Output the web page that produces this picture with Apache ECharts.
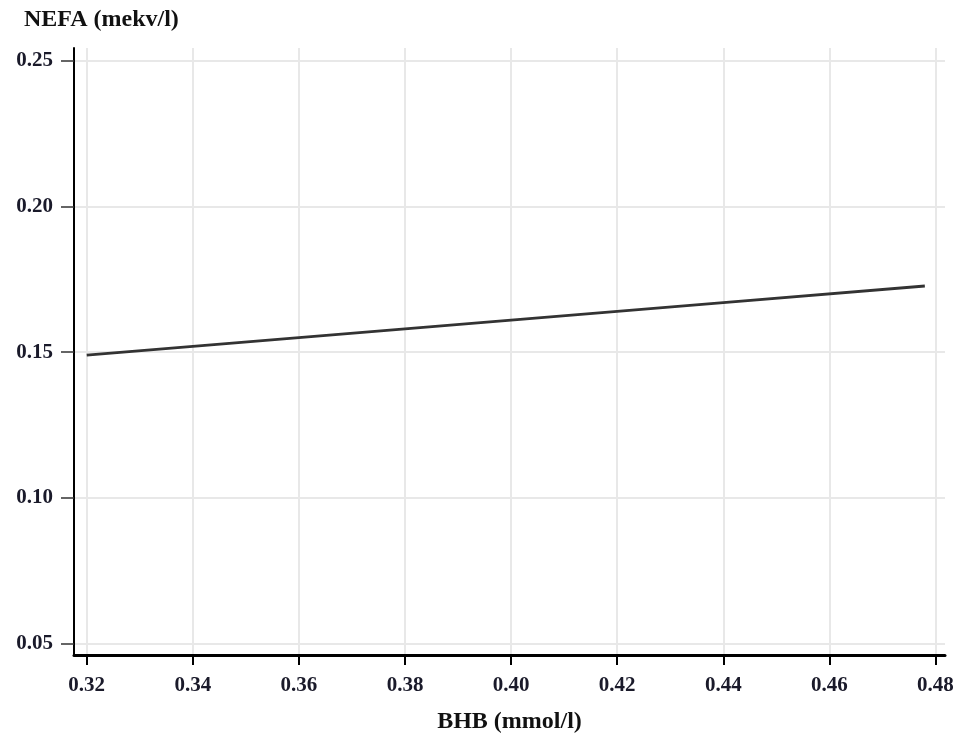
<!DOCTYPE html>
<html>
<head>
<meta charset="utf-8">
<script src="https://cdn.jsdelivr.net/npm/echarts@6/dist/echarts.min.js"></script>
<style>
html,body{margin:0;padding:0;background:#fff;}
#chart{width:957px;height:738px;}
</style>
</head>
<body>
<div id="chart"></div>
<script>
// BHB (mmol/l) vs predicted NEFA (mekv/l)
const bhbValues = [0.32, 0.36, 0.40, 0.44, 0.478];
const nefaValues = [0.149, 0.155, 0.161, 0.167, 0.1727];
const xTicks = [0.32, 0.34, 0.36, 0.38, 0.40, 0.42, 0.44, 0.46, 0.48];
const yTicks = [0.05, 0.10, 0.15, 0.20, 0.25];

const font = '"Liberation Serif", "Times New Roman", serif';
const chart = echarts.init(document.getElementById('chart'));

chart.setOption({
  animation: false,
  backgroundColor: '#fff',
  title: {
    text: 'NEFA (mekv/l)',
    left: 19, top: 3,
    textStyle: { fontFamily: font, fontWeight: 'bold', fontSize: 24, color: '#111' }
  },
  grid: { left: 74, right: 12, top: 48, bottom: 83, containLabel: false, outerBoundsMode: 'none' },
  xAxis: {
    type: 'value',
    min: 0.3176, max: 0.4818,
    name: 'BHB (mmol/l)',
    nameLocation: 'middle',
    nameGap: 55,
    nameTextStyle: { fontFamily: font, fontWeight: 'bold', fontSize: 24, color: '#111' },
    axisLine: { show: true, lineStyle: { color: '#000', width: 3 } },
    axisTick: { show: true, customValues: xTicks, length: 10, lineStyle: { color: '#000', width: 2 } },
    axisLabel: {
      customValues: xTicks, margin: 20,
      formatter: v => v.toFixed(2),
      fontFamily: font, fontWeight: 'bold', fontSize: 21, color: '#1a1a2a'
    },
    splitLine: { show: true, lineStyle: { color: '#e8e8e8', width: 2 } }
  },
  yAxis: {
    type: 'value',
    min: 0.0462, max: 0.2543,
    axisLine: { show: true, lineStyle: { color: '#000', width: 2 } },
    axisTick: { show: true, customValues: yTicks, length: 13, lineStyle: { color: '#333', width: 1.5 } },
    axisLabel: {
      customValues: yTicks, margin: 21,
      formatter: v => v.toFixed(2),
      fontFamily: font, fontWeight: 'bold', fontSize: 21, color: '#1a1a2a'
    },
    splitLine: { show: true, lineStyle: { color: '#e8e8e8', width: 2 } }
  },
  series: [{
    type: 'line',
    data: bhbValues.map((x, i) => [x, nefaValues[i]]),
    showSymbol: false,
    lineStyle: { color: '#333', width: 2.8 }
  }]
});
</script>
</body>
</html>
